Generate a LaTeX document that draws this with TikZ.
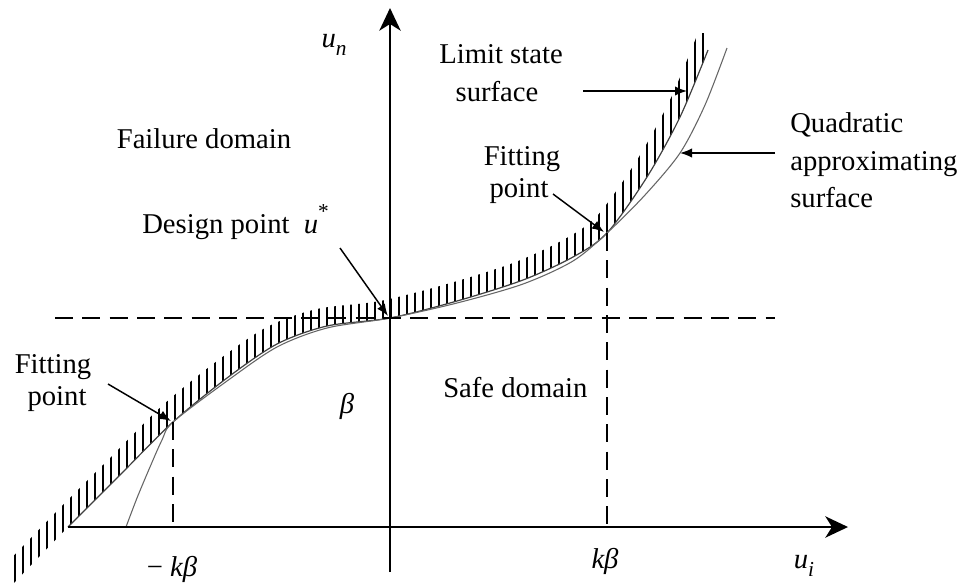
\documentclass[tikz,border=0pt]{standalone}
\usepackage{fontspec}
\setmainfont{Liberation Serif}
\usetikzlibrary{arrows.meta}
\begin{document}
\begin{tikzpicture}[x=0.75pt,y=-0.75pt,
  txt/.style={font=\fontsize{21.5pt}{28pt}\selectfont, inner sep=0pt},
  axis/.style={line width=1.5pt, -{Stealth[length=17pt,width=16pt,inset=5pt]}},
  dsh/.style={line width=1.2pt, dash pattern=on 13.5pt off 7pt},
  lbl/.style={line width=1.1pt, -{Latex[length=9pt,width=7pt]}},
  hatch/.style={line width=1.3pt},
  lscurve/.style={line width=0.9pt, black!75},
  qcurve/.style={line width=0.8pt, black!60}]
\path[fill=white] (0,0) rectangle (966,583);
\useasboundingbox (0,0) rectangle (966,583);
\def\lslist{(10,587) (68,527) (120,475) (173,422) (227,378) (277,344) (327,326) (390,318) (457,301) (523,280) (573,257) (607,233) (647,177) (680,117) (708,50)}
% hatching
\begin{scope}
  \clip plot[smooth] coordinates {\lslist} -- (708,0) -- (0,0) -- (0,587) -- cycle;
  \clip[shift={(-10,-17)}] plot[smooth] coordinates {\lslist} -- (1200,50) -- (1200,700) -- (10,700) -- cycle;
  \foreach \x in {15,23,...,711} \draw[hatch] (\x,0) -- (\x,600);
\end{scope}
% curves
\draw[lscurve] plot[smooth] coordinates {(68,527) (120,475) (173,422) (227,378) (277,344) (327,326) (390,318) (457,301) (523,280) (573,257) (607,233) (647,177) (680,117) (708,50)};
\draw[qcurve] plot[smooth] coordinates {(126,527) (137,498) (150,467) (162,440) (173,422) (227,381) (277,347) (327,328) (390,318) (457,303) (523,284) (573,261) (607,233) (645,195) (680,153) (705,105) (727,48)};
% coordinates
\coordinate (O) at (390,527);
\coordinate (ytop) at (390,8);
\coordinate (ybot) at (390,572);
\coordinate (xl) at (68,527);
\coordinate (xr) at (848,527);
\coordinate (dp) at (390,318);
\coordinate (fpl) at (173,422);
\coordinate (fpr) at (607,233);
\coordinate (fplb) at (173,527);
\coordinate (fprb) at (607,527);
\coordinate (hl) at (55,318);
\coordinate (hr) at (775,318);
% axes
\draw[axis] (ybot) -- (ytop);
\draw[axis] (xl) -- (xr);
% dashed
\draw[dsh] (hl) -- (hr);
\draw[dsh] (fpl) -- (fplb);
\draw[dsh] (fpr) -- (fprb);
% texts
\node[txt, anchor=center] (un) at (334,45) {\itshape u\raisebox{-0.3em}{\fontsize{16}{16}\selectfont n}};
\node[txt, anchor=base] (ls1) at (501,63) {Limit state};
\node[txt, anchor=base] (ls2) at (497,101) {surface};
\node[txt, anchor=base] (fail) at (204,148) {Failure domain};
\node[txt, anchor=base] (fr1) at (522,165) {Fitting};
\node[txt, anchor=base] (fr2) at (519,197) {point};
\node[txt, anchor=base west] (q1) at (790,132) {Quadratic};
\node[txt, anchor=base west] (q2) at (790,170) {approximating};
\node[txt, anchor=base west] (q3) at (790,207) {surface};
\node[txt, anchor=base west] (des) at (142,233) {Design point\ \ {\itshape u}\raisebox{0.5em}{\fontsize{16}{16}\selectfont *}};
\node[txt, anchor=base west] (safe) at (443,397) {Safe domain};
\node[txt, anchor=base] (fl1) at (53,373) {Fitting};
\node[txt, anchor=base] (fl2) at (57,405) {point};
\node[txt, anchor=center] (beta) at (347,406) {\itshape β};
\node[txt, anchor=center] (mkb) at (172,569) {− \itshape kβ};
\node[txt, anchor=center] (kb) at (605,561) {\itshape kβ};
\node[txt, anchor=center] (ui) at (804,566) {\itshape u\raisebox{-0.3em}{\fontsize{16}{16}\selectfont i}};
% label arrows
\coordinate (lsa) at (583,91);
\coordinate (lst) at (687,91);
\coordinate (qa) at (775,153);
\coordinate (qt) at (680,153);
\coordinate (fra) at (553,194);
\coordinate (frt) at (604,232);
\coordinate (da) at (340,248);
\coordinate (dt) at (388,316);
\coordinate (fla) at (108,384);
\coordinate (flt) at (171,421);
\draw[lbl] (lsa) -- (lst);
\draw[lbl] (qa) -- (qt);
\draw[lbl] (fra) -- (frt);
\draw[lbl] (da) -- (dt);
\draw[lbl] (fla) -- (flt);
\end{tikzpicture}
\end{document}
